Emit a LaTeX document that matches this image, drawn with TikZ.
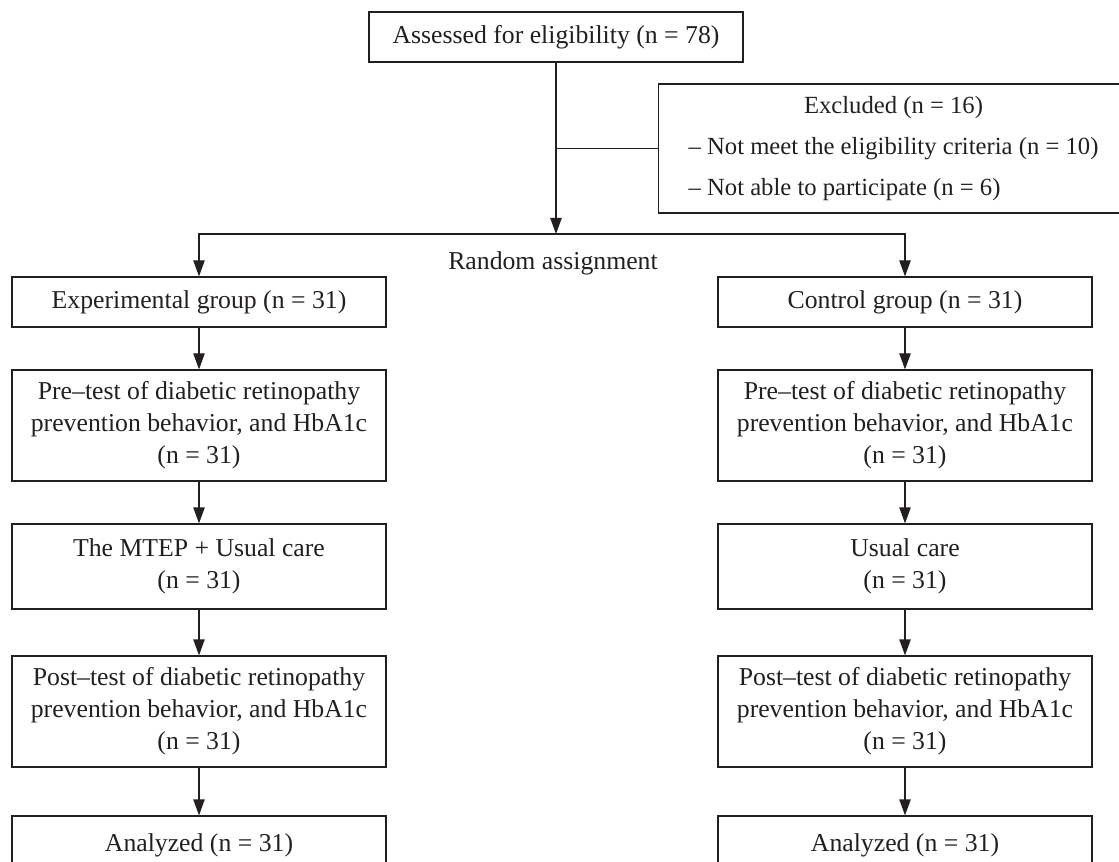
\documentclass[tikz,border=0pt]{standalone}
\usepackage{fontspec}
\setmainfont{Liberation Serif}
\usetikzlibrary{arrows.meta}
\definecolor{ink}{HTML}{231F20}
\begin{document}
\begin{tikzpicture}[x=0.75pt,y=-0.75pt,
  font=\fontsize{19.3}{24}\selectfont,
  line width=0.9pt,
  box/.style={draw=ink, text=ink, rectangle, align=center, minimum width=280.5pt, inner sep=0pt},
  arr/.style={draw=ink, -{Triangle[length=12pt,width=8.5pt]}},
  plain/.style={draw=ink}]
\useasboundingbox (0,0) rectangle (1119,862);
\clip (0,0) rectangle (1119,862);
% top
\node[box, minimum height=37.5pt] (top) at (556,37) {Assessed for eligibility (n = 78)};
\node[box, anchor=west, minimum height=96.75pt, inner xsep=22.5pt, align=left,
      font=\fontsize{18.5}{24}\selectfont] (excl) at (658,148.5)
  {\begin{tabular}{@{}l@{}}\multicolumn{1}{@{}c@{}}{Excluded (n = 16)}\\[6.75pt]
   -- Not meet the eligibility criteria (n = 10)\\[6.75pt]
   -- Not able to participate (n = 6)\end{tabular}};
\coordinate (split) at (556,234);
\draw[arr] (top.south) -- (split);
\draw[plain] (top.south |- excl.west) -- (excl.west);
\node[text=ink] (ra) at (553,263) {Random assignment};
% row 1
\node[box, minimum height=37.5pt] (e1) at (199,302) {Experimental group (n = 31)};
\node[box, minimum height=37.5pt] (c1) at (905,302) {Control group (n = 31)};
\draw[arr] (split) -| (e1.north);
\draw[arr] (split) -| (c1.north);
% row 2
\node[box, minimum height=83.25pt] (e2) at (199,425.5) {Pre--test of diabetic retinopathy\\prevention behavior, and HbA1c\\(n = 31)};
\node[box, minimum height=83.25pt] (c2) at (905,425.5) {Pre--test of diabetic retinopathy\\prevention behavior, and HbA1c\\(n = 31)};
% row 3
\node[box, minimum height=63.75pt] (e3) at (199,566.5) {The MTEP + Usual care\\(n = 31)};
\node[box, minimum height=63.75pt] (c3) at (905,566.5) {Usual care\\(n = 31)};
% row 4
\node[box, minimum height=83.25pt] (e4) at (199,711.5) {Post--test of diabetic retinopathy\\prevention behavior, and HbA1c\\(n = 31)};
\node[box, minimum height=83.25pt] (c4) at (905,711.5) {Post--test of diabetic retinopathy\\prevention behavior, and HbA1c\\(n = 31)};
% row 5
\node[box, minimum height=43.5pt] (e5) at (199,845) {Analyzed (n = 31)};
\node[box, minimum height=43.5pt] (c5) at (905,845) {Analyzed (n = 31)};
% arrows
\foreach \a/\b in {e1/e2,e2/e3,e3/e4,e4/e5,c1/c2,c2/c3,c3/c4,c4/c5}
  \draw[arr] (\a.south) -- (\b.north);
\end{tikzpicture}
\end{document}
